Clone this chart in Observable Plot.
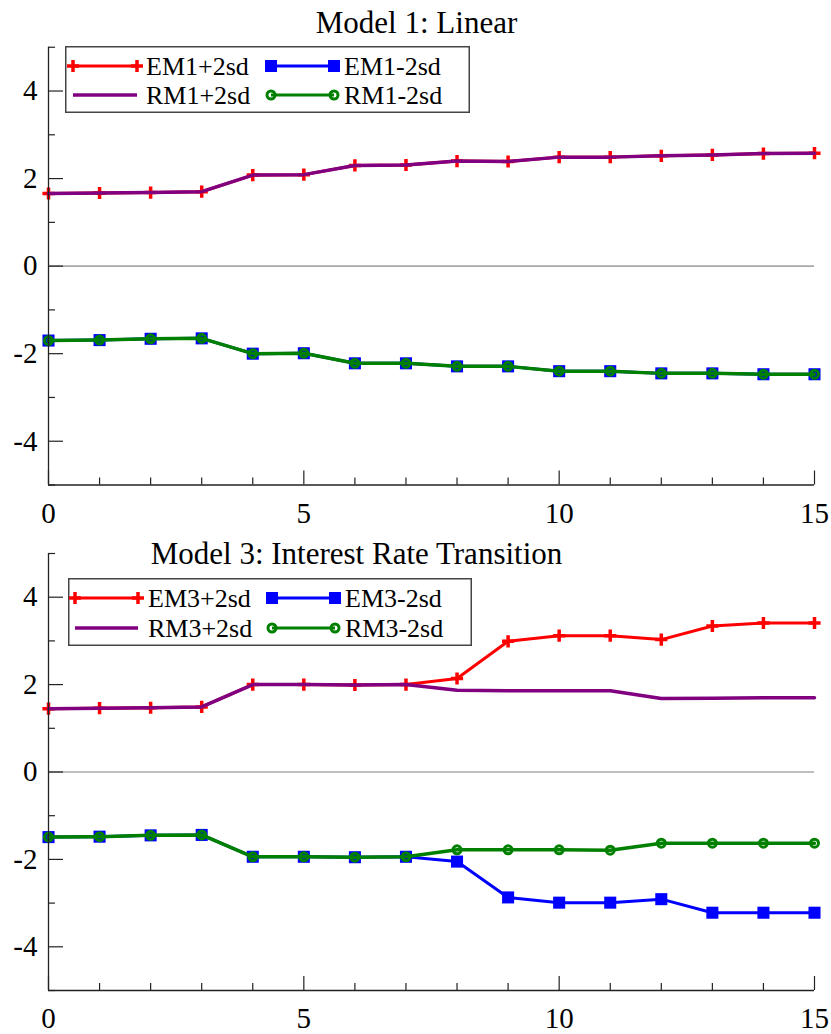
<!DOCTYPE html>
<html><head><meta charset="utf-8">
<script src="https://cdn.jsdelivr.net/npm/d3@7"></script>
<script src="https://cdn.jsdelivr.net/npm/@observablehq/plot@0.6"></script>
<style>
body{margin:0;background:#fff}
#wrap{position:relative;width:831px;height:1034px;font-family:"Liberation Serif",serif}
.panel{position:absolute;left:0}
.legend{position:absolute}
.legend text{font-family:"Liberation Serif",serif}
</style>
</head><body><div id="wrap"></div>
<script>
// ---- data ----
const horizon = [0,1,2,3,4,5,6,7,8,9,10,11,12,13,14,15];

const em1Upper = [1.66,1.67,1.68,1.70,2.08,2.09,2.30,2.31,2.40,2.39,2.49,2.49,2.52,2.54,2.57,2.58];
const em1Lower = [-1.70,-1.69,-1.66,-1.65,-2.00,-1.99,-2.22,-2.22,-2.29,-2.29,-2.40,-2.40,-2.45,-2.45,-2.47,-2.47];
const rm1Upper = [1.66,1.67,1.68,1.70,2.08,2.09,2.30,2.31,2.40,2.39,2.49,2.49,2.52,2.54,2.57,2.58];
const rm1Lower = [-1.70,-1.69,-1.66,-1.65,-2.00,-1.99,-2.22,-2.22,-2.29,-2.29,-2.40,-2.40,-2.45,-2.45,-2.47,-2.47];

const em3Upper = [1.45,1.46,1.47,1.49,2.00,2.00,1.99,2.00,2.14,2.99,3.12,3.12,3.03,3.34,3.41,3.41];
const em3Lower = [-1.49,-1.48,-1.45,-1.44,-1.94,-1.94,-1.95,-1.94,-2.05,-2.87,-2.99,-2.99,-2.91,-3.22,-3.22,-3.22];
const rm3Upper = [1.45,1.46,1.47,1.49,2.00,2.00,1.99,2.00,1.87,1.86,1.86,1.86,1.68,1.69,1.70,1.70];
const rm3Lower = [-1.49,-1.48,-1.45,-1.44,-1.94,-1.94,-1.95,-1.94,-1.78,-1.78,-1.78,-1.79,-1.63,-1.63,-1.63,-1.63];

const yMajor = [-4,-2,0,2,4];
const yMinor = [-5,-3,-1,1,3,5];
const xMajor = [0,5,10,15];
const xMinor = [1,2,3,4,6,7,8,9,11,12,13,14];

const titles = ["Model 1: Linear", "Model 3: Interest Rate Transition"];
const labels1 = ["EM1+2sd","EM1-2sd","RM1+2sd","RM1-2sd"];
const labels3 = ["EM3+2sd","EM3-2sd","RM3+2sd","RM3-2sd"];

const RED = "#ff0000", BLUE = "#0000ff", PURPLE = "#800080", GREEN = "#008000";
const FONT = "Liberation Serif";

function rows(values) { return horizon.map((h, i) => ({h, v: values[i]})); }
const fmt = d => String(d);

function panel({title, eu, el, ru, rl, height, mt, mb, tdx, tdy}) {
  return Plot.plot({
    width: 831, height,
    marginLeft: 48, marginRight: 17, marginTop: mt, marginBottom: mb,
    style: {fontFamily: FONT, background: "white", color: "black", overflow: "visible"},
    x: {domain: [0, 15], label: null},
    y: {domain: [-5, 5], label: null},
    marks: [
      Plot.ruleY([0], {stroke: "#a9a9a9", strokeWidth: 1.6}),
      Plot.line(rows(eu), {x: "h", y: "v", stroke: RED, strokeWidth: 3}),
      Plot.dot(rows(eu), {x: "h", y: "v", symbol: "plus", r: 4, stroke: RED, strokeWidth: 3.5}),
      Plot.line(rows(el), {x: "h", y: "v", stroke: BLUE, strokeWidth: 3}),
      Plot.dot(rows(el), {x: "h", y: "v", symbol: "square", r: 6.8, fill: BLUE, stroke: "none"}),
      Plot.line(rows(ru), {x: "h", y: "v", stroke: PURPLE, strokeWidth: 3.5}),
      Plot.line(rows(rl), {x: "h", y: "v", stroke: GREEN, strokeWidth: 3.5}),
      Plot.dot(rows(rl), {x: "h", y: "v", symbol: "circle", r: 4, fill: "none", stroke: GREEN, strokeWidth: 3}),
      // axis lines
      Plot.ruleX([0], {stroke: "#222", strokeWidth: 1.3}),
      Plot.ruleY([-5], {stroke: "#222", strokeWidth: 1.3}),
      // ticks (inward)
      Plot.axisY(yMajor, {tickSize: -15, tickFormat: () => "", stroke: "#222", strokeWidth: 1.2}),
      Plot.axisY(yMinor, {tickSize: -7, tickFormat: () => "", stroke: "#222", strokeWidth: 1.2}),
      Plot.axisX(xMajor, {tickSize: -14, tickFormat: () => "", stroke: "#222", strokeWidth: 1.2}),
      Plot.axisX(xMinor, {tickSize: -7, tickFormat: () => "", stroke: "#222", strokeWidth: 1.2}),
      // tick labels
      Plot.axisY(yMajor, {tickSize: 0, tickPadding: 11, fontSize: 29, fontFamily: FONT, fontVariant: "normal", tickFormat: fmt, fill: "black"}),
      Plot.axisX(xMajor, {tickSize: 0, tickPadding: 17, fontSize: 29, fontFamily: FONT, fontVariant: "normal", tickFormat: fmt, fill: "black"}),
      // title
      Plot.text([title], {frameAnchor: "top", lineAnchor: "bottom", dx: tdx, dy: tdy, fontSize: 31, fontFamily: FONT, fill: "black"})
    ]
  });
}

function legendSvg(labels, w, h, rowY, sw, tx) {
  const sym = (kind, x, y) => {
    if (kind === "plus") return `<path d="M${x-6},${y}H${x+6}M${x},${y-6}V${y+6}" stroke="${RED}" stroke-width="3.5"/>`;
    if (kind === "square") return `<rect x="${x-6}" y="${y-6}" width="12" height="12" fill="${BLUE}"/>`;
    if (kind === "circle") return `<circle cx="${x}" cy="${y}" r="4" fill="none" stroke="${GREEN}" stroke-width="3"/>`;
    return "";
  };
  const items = [
    {label: labels[0], color: RED, kind: "plus", col: 0, row: 0, width: 3},
    {label: labels[1], color: BLUE, kind: "square", col: 1, row: 0, width: 3},
    {label: labels[2], color: PURPLE, kind: "none", col: 0, row: 1, width: 3.5},
    {label: labels[3], color: GREEN, kind: "circle", col: 1, row: 1, width: 3}
  ];
  let s = `<svg width="${w}" height="${h}" xmlns="http://www.w3.org/2000/svg">`;
  s += `<rect x="0.75" y="0.75" width="${w-1.5}" height="${h-1.5}" fill="white" stroke="#444" stroke-width="1.5"/>`;
  for (const it of items) {
    const [x0, x1] = sw[it.col];
    const y = rowY[it.row];
    s += `<line x1="${x0}" x2="${x1}" y1="${y}" y2="${y}" stroke="${it.color}" stroke-width="${it.width}"/>`;
    s += sym(it.kind, x0, y) + sym(it.kind, x1, y);
    s += `<text x="${tx[it.col]}" y="${y + 9}" font-family="Liberation Serif" font-size="26" fill="black">${it.label}</text>`;
  }
  return s + `</svg>`;
}

const wrap = document.getElementById("wrap");

const p1 = panel({title: titles[0], eu: em1Upper, el: em1Lower, ru: rm1Upper, rl: rm1Lower,
  height: 535, mt: 46.75, mb: 50.5, tdx: -15, tdy: -14.5});
p1.classList.add("panel"); p1.style.top = "0px";
wrap.appendChild(p1);

const p2 = panel({title: titles[1], eu: em3Upper, el: em3Lower, ru: rm3Upper, rl: rm3Lower,
  height: 499, mt: 18, mb: 44, tdx: -75, tdy: 10});
p2.classList.add("panel"); p2.style.top = "535px";
wrap.appendChild(p2);

const l1 = document.createElement("div");
l1.className = "legend"; l1.style.left = "65px"; l1.style.top = "46px";
l1.innerHTML = legendSvg(labels1, 405, 67, [20, 49], [[8, 72], [206, 269]], [81, 279]);
wrap.appendChild(l1);

const l2 = document.createElement("div");
l2.className = "legend"; l2.style.left = "68px"; l2.style.top = "578px";
l2.innerHTML = legendSvg(labels3, 404, 68, [20, 50], [[7, 70], [204, 267]], [80, 277]);
wrap.appendChild(l2);
</script>
</body></html>
